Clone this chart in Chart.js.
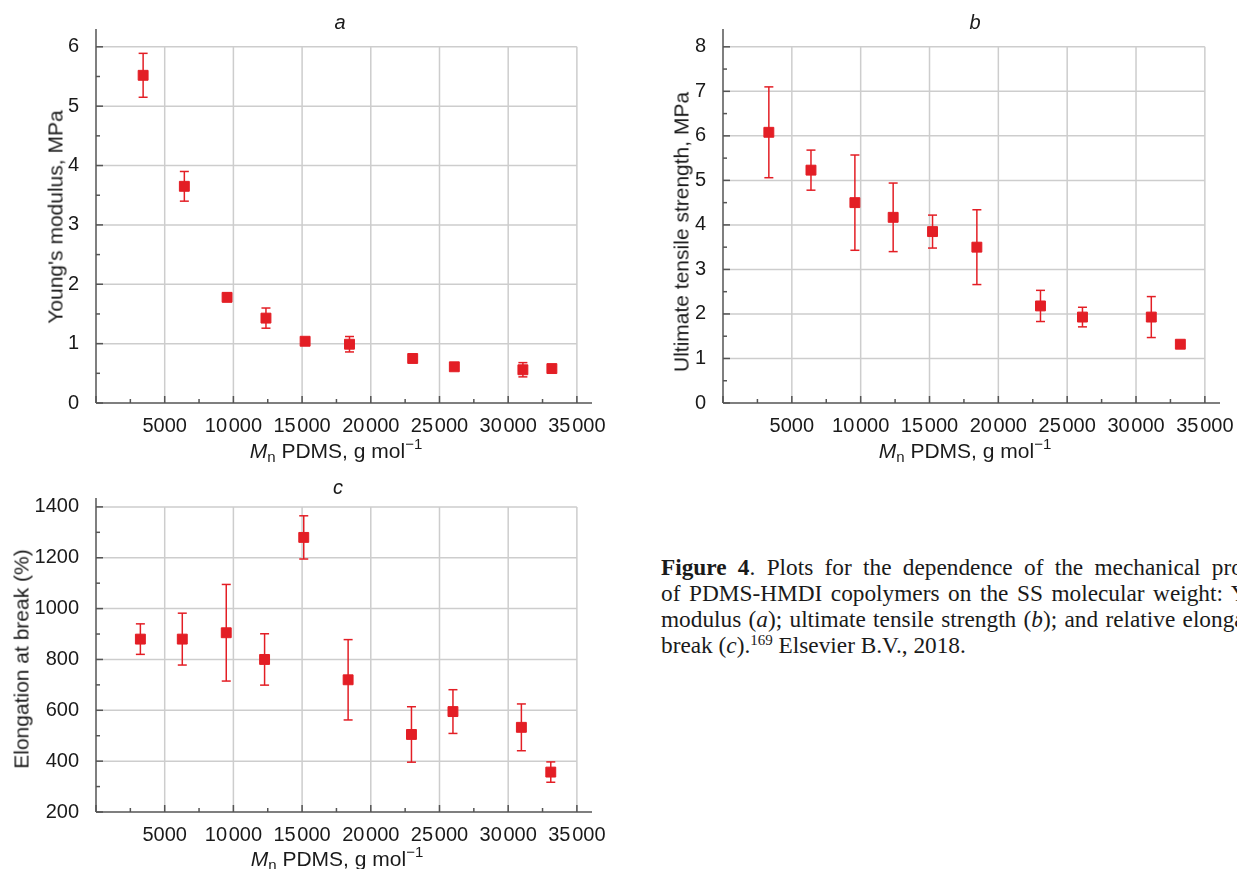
<!DOCTYPE html>
<html>
<head>
<meta charset="utf-8">
<script src="https://cdn.jsdelivr.net/npm/chart.js@4.4.1/dist/chart.umd.min.js"></script>
<style>
  html, body { margin: 0; padding: 0; background: #fff; }
  body { width: 1237px; height: 869px; overflow: hidden; position: relative;
         font-family: "Liberation Sans", Arial, sans-serif; color: #1a1a1a; }
  canvas { position: absolute; }
  .lbl { position: absolute; white-space: nowrap; font-size: 21px; line-height: 1; }
  .panel { font-style: italic; font-size: 20px; transform: translate(-50%, -50%); }
  .ytitle { transform: translate(-50%, -50%) rotate(-90deg); }
  .xtitle { transform: translate(-50%, -50%); }
  .xtitle sub { font-size: 15px; vertical-align: -4px; line-height: 0; }
  .xtitle sup { font-size: 15px; vertical-align: 9px; line-height: 0; }
  #caption { position: absolute; left: 661px; top: 554px; width: 644px;
             font-family: "Liberation Serif", "Times New Roman", serif;
             font-size: 23.3px; line-height: 26px; color: #1a1a1a; }
  #caption .cl { text-align: justify; text-align-last: justify; }
  #caption sup { font-size: 15px; vertical-align: 8px; line-height: 0; }
</style>
</head>
<body>
<canvas id="chartA" width="620" height="470" style="left:0;top:0"></canvas>
<canvas id="chartB" width="620" height="470" style="left:620px;top:0"></canvas>
<canvas id="chartC" width="620" height="399" style="left:0;top:470px"></canvas>

<div class="lbl panel" style="left:340px;top:22px">a</div>
<div class="lbl panel" style="left:975px;top:22px">b</div>
<div class="lbl panel" style="left:338px;top:487px">c</div>

<div class="lbl ytitle" style="left:55px;top:217px">Young's modulus, MPa</div>
<div class="lbl ytitle" style="left:681px;top:232px">Ultimate tensile strength, MPa</div>
<div class="lbl ytitle" style="left:21px;top:659px">Elongation at break (%)</div>

<div class="lbl xtitle" style="left:336px;top:450px"><i>M</i><sub>n</sub> PDMS, g mol<sup>&minus;1</sup></div>
<div class="lbl xtitle" style="left:965px;top:450px"><i>M</i><sub>n</sub> PDMS, g mol<sup>&minus;1</sup></div>
<div class="lbl xtitle" style="left:337px;top:858px"><i>M</i><sub>n</sub> PDMS, g mol<sup>&minus;1</sup></div>

<div id="caption">
  <div class="cl"><b>Figure 4</b>. Plots for the dependence of the mechanical properties</div>
  <div class="cl">of PDMS-HMDI copolymers on the SS molecular weight: Young's</div>
  <div class="cl">modulus (<i>a</i>); ultimate tensile strength (<i>b</i>); and relative elongation at</div>
  <div>break (<i>c</i>).<sup>169</sup> Elsevier B.V., 2018.</div>
</div>

<script>
// Young's modulus (a)
const mnA = [3430, 6430, 9540, 12370, 15220, 18450, 23050, 26080, 31070, 33180];
const youngMod = [5.52, 3.65, 1.78, 1.43, 1.04, 0.99, 0.75, 0.61, 0.56, 0.58];
const youngErr = [0.37, 0.25, 0.07, 0.17, 0.05, 0.13, 0.03, 0.03, 0.12, 0.03];

// ultimate tensile strength (b)
const mnB = [3330, 6390, 9580, 12360, 15220, 18440, 23060, 26110, 31110, 33220];
const tensile = [6.08, 5.23, 4.50, 4.17, 3.85, 3.50, 2.18, 1.93, 1.93, 1.32];
const tensileErr = [1.02, 0.45, 1.07, 0.77, 0.37, 0.84, 0.35, 0.22, 0.46, 0.08];

// elongation at break (c)
const mnC = [3230, 6280, 9480, 12270, 15120, 18350, 22960, 25980, 30960, 33100];
const elongation = [880, 880, 905, 800, 1280, 720, 505, 595, 533, 357];
const elongationErr = [60, 102, 190, 101, 85, 158, 109, 86, 92, 40];

// tick values
const mnTicks = [0, 5000, 10000, 15000, 20000, 25000, 30000, 35000];
const youngTicks = [0, 1, 2, 3, 4, 5, 6];
const tensileTicks = [0, 1, 2, 3, 4, 5, 6, 7, 8];
const elongTicks = [200, 400, 600, 800, 1000, 1200, 1400];

const RED = '#e31e25';
const AXIS = '#555555';
const GRID = '#cdcdcd';
const FONT = 'Liberation Sans, Arial, sans-serif';

function fmtX(v) {
  if (v === 0) return '';
  const s = String(v);
  return v >= 10000 ? s.slice(0, -3) + '\u200A' + s.slice(-3) : s;
}

function line(ctx, x1, y1, x2, y2) {
  ctx.beginPath();
  ctx.moveTo(x1, y1);
  ctx.lineTo(x2, y2);
  ctx.stroke();
}

// grid box, axis lines and inward ticks
const framePlugin = {
  id: 'frame',
  beforeDatasetsDraw(chart) {
    const ctx = chart.ctx;
    const xs = chart.scales.x, ys = chart.scales.y;
    const {left, right, top, bottom} = chart.chartArea;
    const xt = xs.ticks.map(t => t.value);
    const yt = ys.ticks.map(t => t.value);
    const xEnd = xs.getPixelForValue(xt[xt.length - 1]);
    const yEnd = ys.getPixelForValue(yt[yt.length - 1]);
    ctx.save();
    ctx.lineWidth = 1.5;
    ctx.strokeStyle = GRID;
    xt.slice(1).forEach(v => { const p = xs.getPixelForValue(v); line(ctx, p, bottom, p, yEnd); });
    yt.slice(1).forEach(v => { const p = ys.getPixelForValue(v); line(ctx, left, p, xEnd, p); });

    ctx.strokeStyle = AXIS;
    line(ctx, left, top, left, bottom);
    line(ctx, left, bottom, right, bottom);
    const xStep = xt[1] - xt[0], yStep = yt[1] - yt[0];
    xt.forEach(v => {
      const p = xs.getPixelForValue(v);
      line(ctx, p, bottom, p, bottom - 7);
      if (v + xStep / 2 < xs.max) {
        const m = xs.getPixelForValue(v + xStep / 2);
        line(ctx, m, bottom, m, bottom - 4);
      }
    });
    yt.forEach(v => {
      const p = ys.getPixelForValue(v);
      line(ctx, left, p, left + 7, p);
      if (v + yStep / 2 < ys.max) {
        const m = ys.getPixelForValue(v + yStep / 2);
        line(ctx, left, m, left + 4, m);
      }
    });
    ctx.restore();
  }
};

const errorBarPlugin = {
  id: 'errbars',
  beforeDatasetsDraw(chart) {
    const ctx = chart.ctx;
    const xs = chart.scales.x, ys = chart.scales.y;
    ctx.save();
    ctx.strokeStyle = RED;
    ctx.lineWidth = 1.5;
    chart.data.datasets.forEach(ds => {
      ds.data.forEach((pt, i) => {
        const px = xs.getPixelForValue(pt.x);
        const hi = ys.getPixelForValue(pt.y + ds.err[i]);
        const lo = ys.getPixelForValue(pt.y - ds.err[i]);
        line(ctx, px, hi, px, lo);
        line(ctx, px - 4.5, hi, px + 4.5, hi);
        line(ctx, px - 4.5, lo, px + 4.5, lo);
      });
    });
    ctx.restore();
  }
};

function makeChart(id, xs, ys, errs, yMin, yMax, yTicks, box) {
  return new Chart(document.getElementById(id), {
    type: 'scatter',
    data: {
      datasets: [{
        data: xs.map((x, i) => ({x: x, y: ys[i]})),
        err: errs,
        backgroundColor: RED,
        borderColor: RED,
        pointStyle: 'rect',
        pointRadius: 7,
        pointHoverRadius: 7,
        pointBorderWidth: 1
      }]
    },
    options: {
      responsive: false,
      animation: false,
      events: [],
      layout: { padding: { top: box.top, right: box.right, left: 0, bottom: 0 } },
      plugins: { legend: { display: false }, tooltip: { enabled: false } },
      scales: {
        x: {
          type: 'linear', min: 0, max: 36100,
          grid: { display: false }, border: { display: false },
          ticks: { autoSkip: false, maxRotation: 0, padding: 3, color: '#1a1a1a',
                   font: { family: FONT, size: 20 }, callback: fmtX },
          afterBuildTicks: s => { s.ticks = mnTicks.map(v => ({ value: v })); },
          afterFit: s => { s.height = box.bottom; }
        },
        y: {
          type: 'linear', min: yMin, max: yMax,
          grid: { display: false }, border: { display: false },
          ticks: { autoSkip: false, padding: 9, color: '#1a1a1a',
                   font: { family: FONT, size: 20 }, callback: v => String(v) },
          afterBuildTicks: s => { s.ticks = yTicks.map(v => ({ value: v })); },
          afterFit: s => { s.width = box.left; }
        }
      }
    },
    plugins: [framePlugin, errorBarPlugin]
  });
}

makeChart('chartA', mnA, youngMod, youngErr, 0, 6.3, youngTicks, { left: 96, top: 29, right: 28, bottom: 67 });
makeChart('chartB', mnB, tensile, tensileErr, 0, 8.4, tensileTicks, { left: 103, top: 29, right: 20, bottom: 67 });
makeChart('chartC', mnC, elongation, elongationErr, 200, 1435, elongTicks, { left: 96, top: 28, right: 28, bottom: 57 });
</script>
</body>
</html>
